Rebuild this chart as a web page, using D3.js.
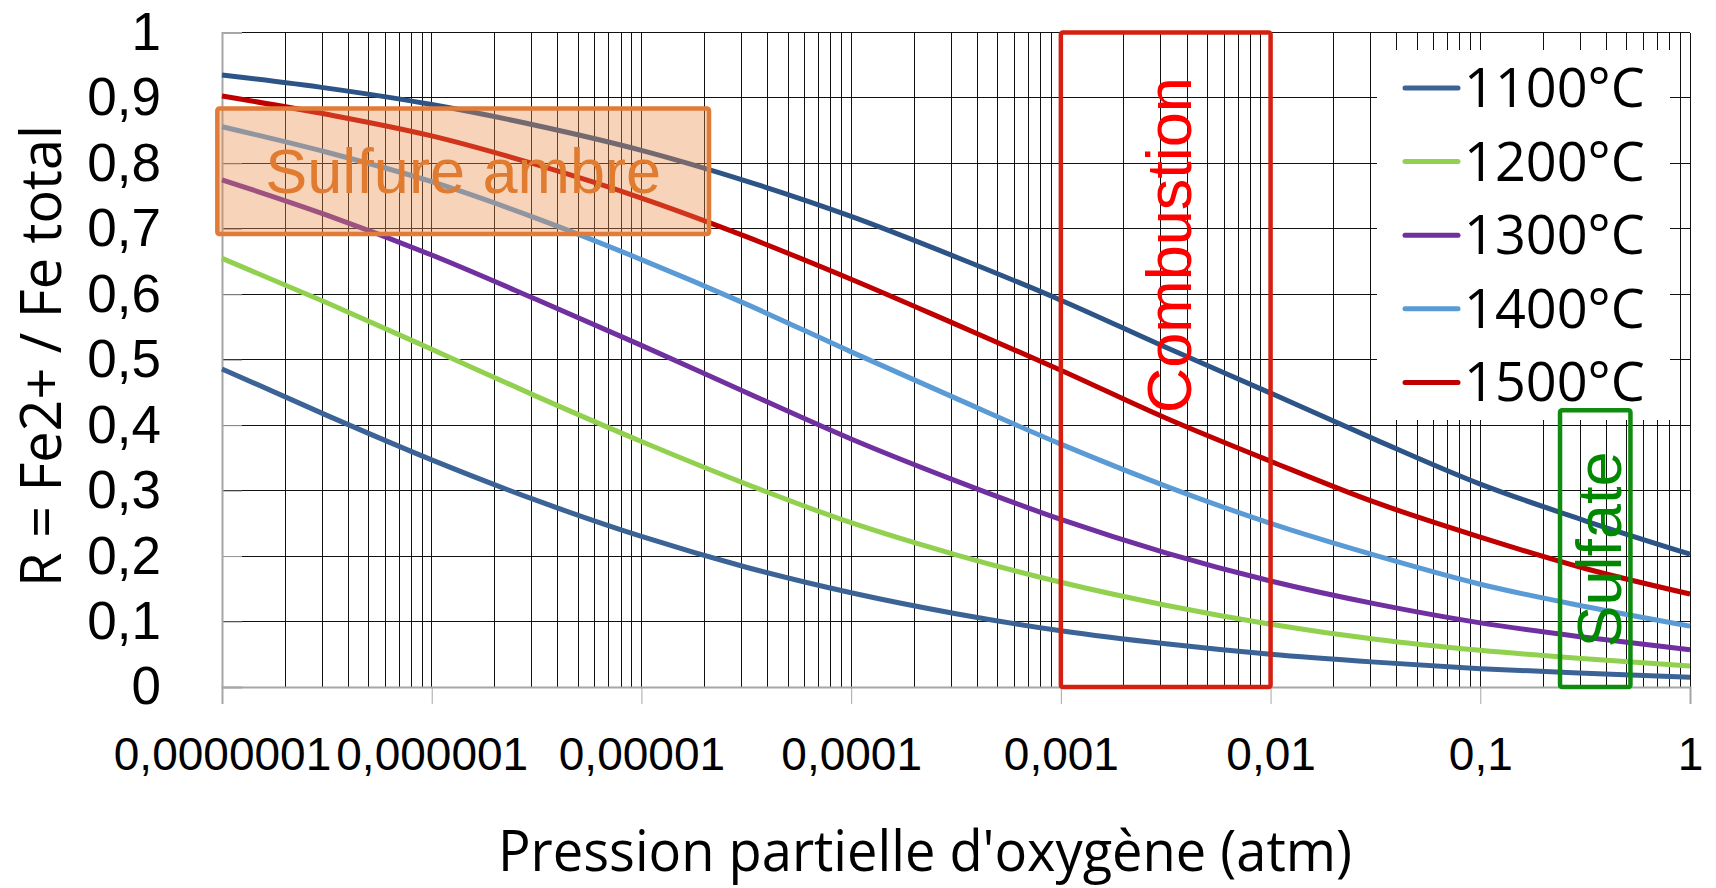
<!DOCTYPE html>
<html>
<head>
<meta charset="utf-8">
<script src="https://cdn.jsdelivr.net/npm/d3@7"></script>
<style>
  body { margin: 0; background: #fff; }
</style>
</head>
<body>
<div id="graphe"></div>
<script>
// pressions partielles d'oxygène (atm), un point par demi-décade
const pressions = [1e-7, 3.162e-7, 1e-6, 3.162e-6, 1e-5, 3.162e-5, 1e-4, 3.162e-4,
                   1e-3, 3.162e-3, 1e-2, 3.162e-2, 1e-1, 3.162e-1, 1];

// R = Fe2+ / Fe total
const r1100 = [0.486, 0.415, 0.347, 0.285, 0.230, 0.183, 0.144, 0.112, 0.086, 0.066, 0.050, 0.038, 0.028, 0.021, 0.015];
const r1200 = [0.655, 0.587, 0.516, 0.444, 0.375, 0.310, 0.251, 0.202, 0.160, 0.125, 0.096, 0.073, 0.056, 0.043, 0.032];
const r1300 = [0.775, 0.721, 0.660, 0.592, 0.522, 0.450, 0.379, 0.315, 0.256, 0.205, 0.162, 0.127, 0.098, 0.076, 0.057];
const r1400 = [0.856, 0.817, 0.772, 0.716, 0.653, 0.585, 0.512, 0.441, 0.371, 0.307, 0.250, 0.201, 0.157, 0.123, 0.093];
const r1500 = [0.903, 0.875, 0.842, 0.798, 0.747, 0.688, 0.623, 0.554, 0.484, 0.411, 0.345, 0.282, 0.229, 0.181, 0.142];
// courbe du haut (sans entrée de légende)
const courbeHaute = [0.935, 0.915, 0.890, 0.858, 0.820, 0.773, 0.719, 0.657, 0.591, 0.519, 0.449, 0.378, 0.310, 0.254, 0.203];

const temperatures = ["1100°C", "1200°C", "1300°C", "1400°C", "1500°C"];
const series = [r1100, r1200, r1300, r1400, r1500];
const couleurs = ["#3B6396", "#92D050", "#7030A0", "#5B9BD5", "#C00000"];

// graduations
const xTicks = [1e-7, 1e-6, 1e-5, 1e-4, 1e-3, 1e-2, 1e-1, 1];
const xTickLabels = ["0,0000001", "0,000001", "0,00001", "0,0001", "0,001", "0,01", "0,1", "1"];
const yTicks = [0, 0.1, 0.2, 0.3, 0.4, 0.5, 0.6, 0.7, 0.8, 0.9, 1];
const yTickLabels = ["0", "0,1", "0,2", "0,3", "0,4", "0,5", "0,6", "0,7", "0,8", "0,9", "1"];

// zones annotées
const zones = ["Sulfure ambre", "Combustion", "Sulfate"];
const zonesX = [[9.5e-8, 2.1e-5], [1e-3, 1e-2], [0.24, 0.52]];
const zonesY = [[0.692, 0.884], [0, 1], [0, 0.423]];
const zonesTexteY = [0.79, 0.675, 0.21];

const width = 1716, height = 888;
const margin = { top: 32.5, right: 26, bottom: 201, left: 222 };
const w = width - margin.left - margin.right;
const h = height - margin.top - margin.bottom;

const svg = d3.select("#graphe")
  .append("svg")
  .attr("width", width)
  .attr("height", height)
  .style("font-family", "'Open Sans', sans-serif");

const g = svg.append("g")
  .attr("transform", `translate(${margin.left},${margin.top})`);

// Échelles
const x = d3.scaleLog().domain([1e-7, 1]).range([0, w]);
const y = d3.scaleLinear().domain([0, 1]).range([h, 0]);

// Quadrillage
g.append("g")
  .selectAll("line")
  .data(x.ticks())
  .enter()
  .append("line")
  .attr("x1", d => x(d)).attr("x2", d => x(d))
  .attr("y1", 0).attr("y2", h)
  .attr("stroke", "#111")
  .attr("shape-rendering", "crispEdges");

g.append("g")
  .selectAll("line")
  .data(yTicks)
  .enter()
  .append("line")
  .attr("x1", 0).attr("x2", w)
  .attr("y1", d => y(d)).attr("y2", d => y(d))
  .attr("stroke", "#111")
  .attr("shape-rendering", "crispEdges");

// Axes
const yAxis = g.append("g")
  .call(d3.axisLeft(y).tickValues(yTicks).tickFormat((d, i) => yTickLabels[i]).tickSize(0).tickPadding(61));
yAxis.select(".domain").remove();
yAxis.selectAll("text")
  .style("font-size", "53px")
  .attr("fill", "#000");

const yTicksIn = g.append("g")
  .call(d3.axisLeft(y).tickValues(yTicks).tickFormat("").tickSize(-20));
yTicksIn.selectAll("line").attr("stroke", "#a6a6a6");
yTicksIn.select(".domain").attr("stroke", "#a6a6a6").attr("stroke-width", 2);

const xAxis = g.append("g")
  .attr("transform", `translate(0,${h})`)
  .call(d3.axisBottom(x).tickValues(xTicks).tickFormat((d, i) => xTickLabels[i]).tickSize(17).tickPadding(33));
xAxis.selectAll("line").attr("stroke", "#a6a6a6");
xAxis.select(".domain").attr("stroke", "#a6a6a6").attr("stroke-width", 2);
xAxis.selectAll("text")
  .style("font-size", "46px")
  .attr("fill", "#000");

// Courbes
const ligne = d3.line()
  .x((d, i) => x(pressions[i]))
  .y(d => y(d))
  .curve(d3.curveMonotoneX);

g.append("path")
  .datum(courbeHaute)
  .attr("d", ligne)
  .attr("fill", "none")
  .attr("stroke", "#2D5486")
  .attr("stroke-width", 5);

g.selectAll(".courbe")
  .data(series)
  .enter()
  .append("path")
  .attr("class", "courbe")
  .attr("d", ligne)
  .attr("fill", "none")
  .attr("stroke", (d, i) => couleurs[i])
  .attr("stroke-width", 5);

// Légende
const legende = svg.append("g");
legende.append("rect")
  .attr("x", 1377).attr("y", 50)
  .attr("width", 293).attr("height", 370)
  .attr("fill", "#fff");

const items = legende.selectAll(".item")
  .data(temperatures)
  .enter()
  .append("g")
  .attr("transform", (d, i) => `translate(1405,${88 + i * 73.6})`);

items.append("line")
  .attr("x1", 0).attr("x2", 53)
  .attr("stroke", (d, i) => couleurs[i])
  .attr("stroke-width", 5)
  .attr("stroke-linecap", "round");

items.append("text")
  .attr("x", 59)
  .attr("dy", "0.35em")
  .style("font-size", "54px")
  .text(d => d);

// Zones annotées (au-dessus de la légende)
const gz = svg.append("g")
  .attr("transform", `translate(${margin.left},${margin.top})`);
const couleursZones = ["#E07B39", "#D42010", "#0F8C0F"];
const couleursTexte = ["#E07B30", "#FF0000", "#008800"];

zones.forEach((nom, i) => {
  const x0 = x(zonesX[i][0]), x1 = x(zonesX[i][1]);
  const y0 = y(zonesY[i][1]), y1 = y(zonesY[i][0]);
  gz.append("rect")
    .attr("x", x0).attr("y", y0)
    .attr("width", x1 - x0).attr("height", y1 - y0)
    .attr("rx", 2)
    .attr("fill", i === 0 ? "rgba(233,140,74,0.38)" : "none")
    .attr("stroke", couleursZones[i])
    .attr("stroke-width", 4.5);

  const cx = (x0 + x1) / 2;
  const cy = y(zonesTexteY[i]);
  const t = gz.append("text")
    .attr("text-anchor", "middle")
    .attr("dy", "0.36em")
    .style("font-family", "'Liberation Sans', Arial, sans-serif")
    .style("font-size", "63px")
    .attr("fill", couleursTexte[i])
    .text(nom);
  if (i === 0) t.attr("x", cx).attr("y", cy);
  else t.attr("transform", `translate(${cx + 3},${cy}) rotate(-90)`);
});

// Titres des axes
svg.append("text")
  .attr("x", 925)
  .attr("y", 871)
  .attr("text-anchor", "middle")
  .attr("textLength", 854)
  .attr("lengthAdjust", "spacingAndGlyphs")
  .style("font-size", "56px")
  .text("Pression partielle d'oxygène (atm)");

svg.append("text")
  .attr("transform", "translate(61,356) rotate(-90)")
  .attr("text-anchor", "middle")
  .attr("textLength", 462)
  .attr("lengthAdjust", "spacingAndGlyphs")
  .style("font-size", "56px")
  .text("R = Fe2+ / Fe total");
</script>
</body>
</html>
